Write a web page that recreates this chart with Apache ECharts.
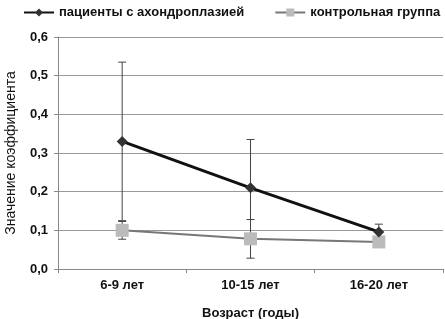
<!DOCTYPE html>
<html>
<head>
<meta charset="utf-8">
<script src="https://cdn.jsdelivr.net/npm/echarts@6/dist/echarts.min.js"></script>
<style>
  html, body { margin: 0; padding: 0; background: #fff; }
  #chart { width: 445px; height: 319px; }
</style>
</head>
<body>
<div id="chart"></div>
<script>
const categories = ['6-9 лет', '10-15 лет', '16-20 лет'];
const patients = [0.33, 0.21, 0.096];
const patientsErr = [0.205, 0.125, 0.02];
const control = [0.10, 0.078, 0.07];
const controlErr = [0.023, 0.05, 0.005];
const yTicks = [0, 0.1, 0.2, 0.3, 0.4, 0.5, 0.6];

const errData = (vals, errs) => vals.map((v, i) => [i, v - errs[i], v + errs[i]]);

const errorBars = (name, vals, errs) => ({
    type: 'custom',
    name: name + '_err',
    z: 1,
    silent: true,
    data: errData(vals, errs),
    renderItem: function (params, api) {
        const lo = api.coord([api.value(0), api.value(1)]);
        const hi = api.coord([api.value(0), api.value(2)]);
        const w = 4;
        const style = {stroke: '#444', lineWidth: 1};
        return {
            type: 'group',
            children: [
                {type: 'line', shape: {x1: hi[0], y1: hi[1], x2: lo[0], y2: lo[1]}, style: style},
                {type: 'line', shape: {x1: hi[0] - w, y1: hi[1], x2: hi[0] + w, y2: hi[1]}, style: style},
                {type: 'line', shape: {x1: lo[0] - w, y1: lo[1], x2: lo[0] + w, y2: lo[1]}, style: style}
            ]
        };
    }
});

const chart = echarts.init(document.getElementById('chart'));
chart.setOption({
    animation: false,
    textStyle: {fontFamily: 'Liberation Sans, Arial, sans-serif'},
    legend: {
        top: 1,
        left: 18,
        width: 440,
        itemGap: 30,
        itemWidth: 30,
        itemHeight: 10,
        textStyle: {fontSize: 13, fontWeight: 'bold', color: '#111'},
        data: ['пациенты с ахондроплазией', 'контрольная группа']
    },
    grid: {left: 58, right: 2, top: 37, bottom: 50, outerBoundsMode: 'none'},
    xAxis: {
        type: 'category',
        data: categories,
        boundaryGap: true,
        name: 'Возраст (годы)',
        nameLocation: 'middle',
        nameGap: 38,
        nameTextStyle: {fontSize: 13, fontWeight: 'bold', color: '#111'},
        axisLine: {lineStyle: {color: '#888'}},
        axisTick: {show: true, alignWithLabel: false, length: 4, lineStyle: {color: '#888'}},
        axisLabel: {fontSize: 13, fontWeight: 'bold', color: '#111', margin: 10}
    },
    yAxis: {
        type: 'value',
        min: 0,
        max: 0.6,
        interval: 0.1,
        name: 'Значение коэффициента',
        nameLocation: 'middle',
        nameGap: 40,
        nameTextStyle: {fontSize: 14, color: '#111'},
        axisLine: {show: true, lineStyle: {color: '#888'}},
        axisTick: {show: true, length: 4, lineStyle: {color: '#888'}},
        axisLabel: {
            fontSize: 13, fontWeight: 'bold', color: '#111', margin: 10,
            formatter: v => yTicks.includes(Math.round(v * 10) / 10) ? v.toFixed(1).replace('.', ',') : ''
        },
        splitLine: {lineStyle: {color: '#999'}}
    },
    series: [
        errorBars('patients', patients, patientsErr),
        errorBars('control', control, controlErr),
        {
            name: 'контрольная группа',
            type: 'line',
            z: 2,
            data: control,
            symbol: 'rect',
            symbolSize: 13,
            lineStyle: {color: '#777', width: 2},
            itemStyle: {color: '#bbb'}
        },
        {
            name: 'пациенты с ахондроплазией',
            type: 'line',
            z: 3,
            data: patients,
            symbol: 'diamond',
            symbolSize: 11,
            lineStyle: {color: '#111', width: 3},
            itemStyle: {color: '#333'}
        }
    ]
});
</script>
</body>
</html>
